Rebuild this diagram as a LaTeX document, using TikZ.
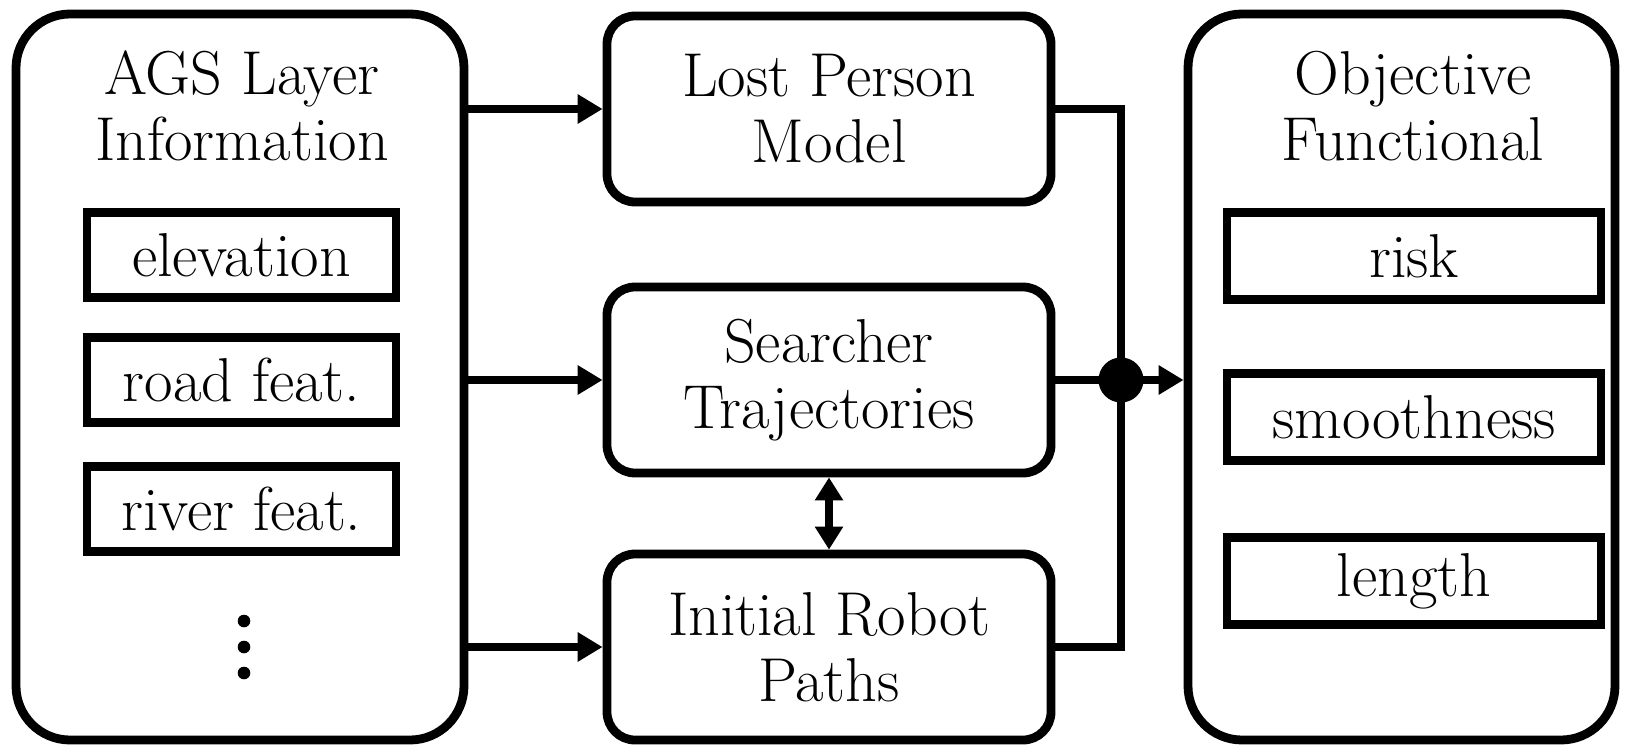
\documentclass[tikz,border=0pt]{standalone}
\usepackage{fontspec}
\usetikzlibrary{arrows.meta,calc}
\begin{document}
\begin{tikzpicture}[x=0.5pt,y=-0.5pt,
  lw/.style={line width=4.4pt},
  fnt/.style={font=\fontsize{31}{33}\selectfont},
  txt/.style={fnt,align=center,inner sep=0pt},
  bigbox/.style={draw,lw,rounded corners=27pt,minimum width=#1,minimum height=363pt,inner sep=0pt},
  midbox/.style={draw,lw,rounded corners=14pt,minimum width=222pt,minimum height=93pt,inner sep=0pt,
    fnt,align=center},
  leftitem/.style={draw,lw,minimum width=154.5pt,minimum height=42.5pt,inner sep=0pt,fnt},
  rightitem/.style={draw,lw,minimum width=187pt,minimum height=43.5pt,inner sep=0pt,fnt},
  arr/.style={lw,-{Triangle[length=12.5pt,width=14pt]}},
  darr/.style={lw,{Triangle[length=11.5pt,width=13.5pt]}-{Triangle[length=11.5pt,width=13.5pt]}},
  vdot/.style={circle,fill,inner sep=0pt,minimum size=6.3pt}]
\useasboundingbox (0,0) rectangle (1629,750);

% big boxes
\node[bigbox=224pt] (ags) at (240,377) {};
\node[bigbox=213.5pt] (obj) at (1401.5,377) {};
\node[txt] (agst) at (242,106) {AGS Layer\\Information};
\node[txt] (objt) at (1413,106) {Objective\\Functional};

% left items
\node[leftitem] (elev) at (241.5,255) {elevation};
\node[leftitem] (road) at (241.5,380) {road feat.};
\node[leftitem] (river) at (241.5,509) {river feat.};
\node[vdot] (d1) at (244,621) {};
\node[vdot] (d2) at (244,647) {};
\node[vdot] (d3) at (244,673) {};

% right items
\node[rightitem] (risk) at (1414,256) {risk};
\node[rightitem] (smooth) at (1414,417) {smoothness};
\node[rightitem] (length) at (1414,581) {length};

% middle boxes
\node[midbox] (lpm) at (829,109) {Lost Person\\Model};
\node[midbox] (st) at (829,380) {Searcher\\Trajectories};
\node[midbox] (irp) at (829,647) {Initial Robot\\Paths};

% junction
\node[circle,fill,inner sep=0pt,minimum size=22.5pt] (dot) at (1121,380) {};

% connectors
\draw[arr] (ags.east |- lpm.west) -- (lpm.west);
\draw[arr] (ags.east |- st.west) -- (st.west);
\draw[arr] (ags.east |- irp.west) -- (irp.west);
\draw[lw] (lpm.east) -| (dot.center);
\draw[lw] (irp.east) -| (dot.center);
\draw[lw] (st.east) -- (dot.center);
\draw[arr] (dot.center) -- (dot.center -| obj.west);
\draw[darr] (st.south) -- (irp.north);
\end{tikzpicture}
\end{document}
